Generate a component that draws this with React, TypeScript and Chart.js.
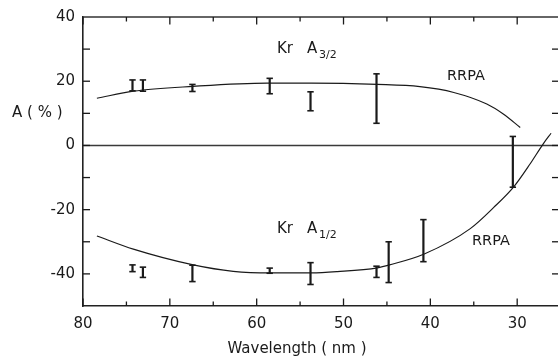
import React, { useEffect, useRef } from 'react';
import { Chart, registerables } from 'chart.js';

Chart.register(...registerables);

// ---- data ----
const xTickValues = [80, 75, 70, 65, 60, 55, 50, 45, 40, 35, 30];
const yTickValues = [-50, -40, -30, -20, -10, 0, 10, 20, 30, 40];

// Kr A3/2 measured points (error bars)
const a32X = [74.3, 73.1, 67.4, 58.5, 53.8, 46.2, 30.5];
const a32Low = [17.0, 16.9, 16.8, 16.1, 10.8, 6.9, -13.0];
const a32High = [20.4, 20.4, 19.0, 20.9, 16.7, 22.3, 2.8];

// Kr A1/2 measured points (error bars)
const a12X = [74.3, 73.1, 67.4, 58.5, 53.8, 46.2, 44.8, 40.8];
const a12Low = [-39.3, -41.1, -42.4, -39.8, -43.3, -41.1, -42.7, -36.2];
const a12High = [-37.2, -37.9, -37.3, -38.2, -36.5, -37.6, -30.0, -23.1];

// RRPA theory curves
const rrpa32X = [78.4, 74.2, 67.3, 58.8, 53.7, 46.1, 41.2, 37.3, 33.5, 31.6, 29.65];
const rrpa32Y = [14.7, 16.9, 18.4, 19.4, 19.4, 19.0, 18.3, 16.5, 12.9, 9.8, 5.6];

const rrpa12X = [78.4, 74.2, 67.3, 62.7, 58.4, 53.7, 50.7, 46.1, 44.7, 40.7, 35.4, 32.7, 30.4, 28.5, 27.0, 26.1];
const rrpa12Y = [-28.2, -32.3, -37.2, -39.2, -39.7, -39.7, -39.3, -38.1, -37.2, -33.8, -25.9, -19.3, -12.9, -5.7, 0.5, 3.8];

const xTitle = 'Wavelength ( nm )';
const yTitle = 'A ( % )';
const labelKr = 'Kr';
const labelA = 'A';
const sub32 = '3/2';
const sub12 = '1/2';
const labelRRPA = 'RRPA';

const FONT = '"DejaVu Sans", sans-serif';
const INK = '#1a1a1a';

const decorPlugin = {
  id: 'decor',
  beforeDatasetsDraw(chart: any) {
    const { ctx, chartArea: a, scales } = chart;
    const y = scales.y;
    const py = y.getPixelForValue(0);
    ctx.save();
    ctx.strokeStyle = '#3a3a3a';
    ctx.lineWidth = 1.5;
    ctx.beginPath();
    ctx.moveTo(a.left, py);
    ctx.lineTo(a.right, py);
    ctx.stroke();
    ctx.restore();
  },
  afterDatasetsDraw(chart: any) {
    const { ctx, chartArea: a, scales } = chart;
    const x = scales.x;
    const y = scales.y;
    const line = (x1: number, y1: number, x2: number, y2: number) => {
      ctx.beginPath();
      ctx.moveTo(x1, y1);
      ctx.lineTo(x2, y2);
      ctx.stroke();
    };
    ctx.save();
    ctx.strokeStyle = INK;
    // error bars
    chart.data.datasets.forEach((ds: any) => {
      if (!ds.errorBars) return;
      ds.data.forEach((p: any) => {
        const px = x.getPixelForValue(p.x);
        const top = y.getPixelForValue(p.yMax);
        const bot = y.getPixelForValue(p.yMin);
        ctx.lineWidth = 2.2;
        line(px, top, px, bot);
        ctx.lineWidth = 1.6;
        line(px - 3.2, top, px + 3.2, top);
        line(px - 3.2, bot, px + 3.2, bot);
      });
    });
    // top frame
    ctx.lineWidth = 1.5;
    ctx.strokeStyle = '#333';
    line(a.left, a.top, a.right, a.top);
    // inward ticks
    ctx.strokeStyle = INK;
    ctx.lineWidth = 1.3;
    x.ticks.forEach((t: any) => {
      const px = x.getPixelForValue(t.value);
      const len = t.value % 10 === 0 ? 7.5 : 4.5;
      line(px, a.bottom, px, a.bottom - len);
      line(px, a.top, px, a.top + len);
    });
    y.ticks.forEach((t: any) => {
      if (t.value <= y.min || t.value >= y.max) return;
      const py = y.getPixelForValue(t.value);
      line(a.left, py, a.left + 7, py);
      line(a.right, py, a.right - 6, py);
    });
    // texts
    ctx.fillStyle = INK;
    ctx.textBaseline = 'alphabetic';
    ctx.textAlign = 'left';
    ctx.font = `15px ${FONT}`;
    ctx.fillText(yTitle, 12, 117);
    ctx.textAlign = 'center';
    ctx.fillText(xTitle, 297, 353);
    ctx.textAlign = 'left';
    const krLabel = (baseline: number, sub: string) => {
      ctx.font = `15px ${FONT}`;
      ctx.fillText(labelKr, 277, baseline);
      ctx.fillText(labelA, 307, baseline);
      ctx.font = `11px ${FONT}`;
      ctx.fillText(sub, 319, baseline + 5);
    };
    krLabel(53, sub32);
    krLabel(233, sub12);
    ctx.font = `14.5px ${FONT}`;
    ctx.fillText(labelRRPA, 447, 80);
    ctx.fillText(labelRRPA, 472, 245);
    ctx.restore();
  },
};

export default function App() {
  const ref = useRef<HTMLCanvasElement>(null);
  useEffect(() => {
    if (!ref.current) return;
    const curve = (xs: number[], ys: number[]) => ({
      data: xs.map((v, i) => ({ x: v, y: ys[i] })),
      borderColor: INK,
      borderWidth: 1.2,
      pointRadius: 0,
      fill: false,
      cubicInterpolationMode: 'monotone' as const,
    });
    const bars = (xs: number[], lo: number[], hi: number[]) => ({
      data: xs.map((v, i) => ({ x: v, y: (lo[i] + hi[i]) / 2, yMin: lo[i], yMax: hi[i] })),
      showLine: false,
      pointRadius: 0,
      borderColor: INK,
      errorBars: true,
    });
    const chart = new Chart(ref.current, {
      type: 'line',
      data: {
        datasets: [
          curve(rrpa32X, rrpa32Y),
          curve(rrpa12X, rrpa12Y),
          bars(a32X, a32Low, a32High) as any,
          bars(a12X, a12Low, a12High) as any,
        ],
      },
      options: {
        animation: false,
        responsive: false,
        layout: { padding: { top: 15, left: 0, right: 0, bottom: 0 } },
        plugins: { legend: { display: false }, tooltip: { enabled: false } },
        scales: {
          x: {
            type: 'linear',
            reverse: true,
            min: 25.3,
            max: 80,
            afterBuildTicks: (s: any) => {
              s.ticks = xTickValues.map((v) => ({ value: v }));
            },
            afterFit: (s: any) => {
              s.height = 52;
            },
            grid: { display: false, drawTicks: false },
            border: { display: true, color: '#222', width: 1.6 },
            ticks: {
              padding: 9,
              color: INK,
              font: { family: FONT, size: 15 },
              maxRotation: 0,
              autoSkip: false,
              callback: (v: any) => (Number(v) % 10 === 0 ? String(v) : ''),
            },
          },
          y: {
            type: 'linear',
            min: -50,
            max: 40,
            afterBuildTicks: (s: any) => {
              s.ticks = yTickValues.map((v) => ({ value: v }));
            },
            afterFit: (s: any) => {
              s.width = 83;
            },
            grid: { display: false, drawTicks: false },
            border: { display: true, color: '#222', width: 1.6 },
            ticks: {
              padding: 8,
              color: INK,
              font: { family: FONT, size: 15 },
              autoSkip: false,
              callback: (v: any) => (Number(v) % 20 === 0 ? String(v) : ''),
            },
          },
        },
      },
      plugins: [decorPlugin],
    });
    return () => chart.destroy();
  }, []);
  return (
    <div style={{ position: 'absolute', left: 0, top: 0, width: 558, height: 358, background: '#fff' }}>
      <canvas ref={ref} width={558} height={358} style={{ display: 'block' }} />
    </div>
  );
}
